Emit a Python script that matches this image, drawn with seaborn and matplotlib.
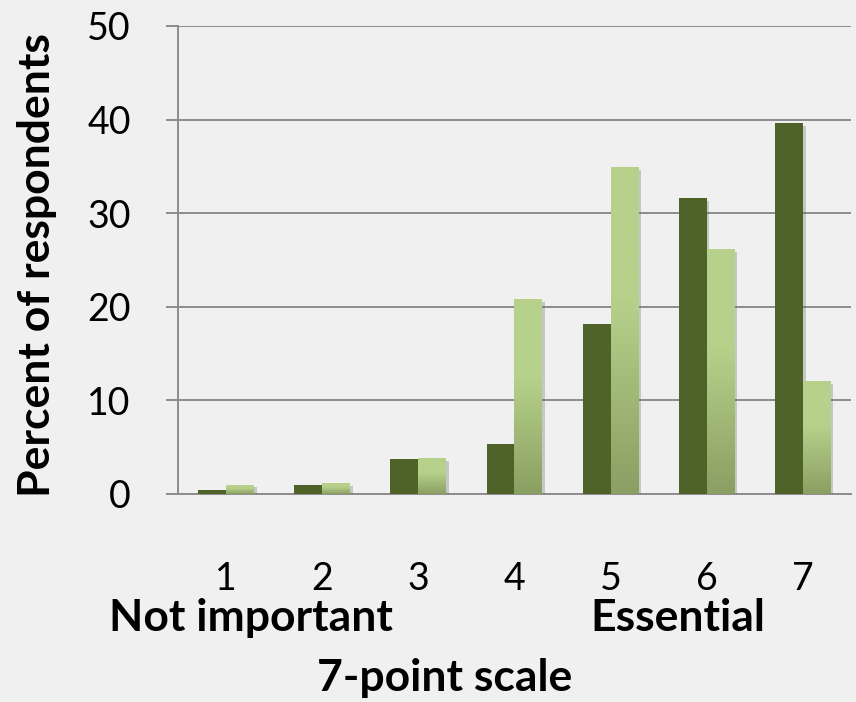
import numpy as np
import pandas as pd
import matplotlib
matplotlib.use("Agg")
import matplotlib.pyplot as plt
import matplotlib.patheffects as pe
from matplotlib.colors import LinearSegmentedColormap
import seaborn as sns

# data
scale_points = ["1", "2", "3", "4", "5", "6", "7"]
series_names = ["Series 1", "Series 2"]
dark_values = [0.4, 1.0, 3.7, 5.3, 18.2, 31.6, 39.6]
light_values = [1.0, 1.2, 3.8, 20.8, 34.9, 26.2, 12.1]
y_ticks = [0, 10, 20, 30, 40, 50]

df = pd.DataFrame({
    "scale": scale_points * 2,
    "series": [series_names[0]] * len(scale_points) + [series_names[1]] * len(scale_points),
    "percent": dark_values + light_values,
})

sns.set_theme(style="white")
plt.rcParams["font.family"] = ["Lato", "DejaVu Sans"]

bg = "#f0f0f0"
grid_col = "#8c8c8c"
fig = plt.figure(figsize=(8.56, 7.02), dpi=100, facecolor=bg)
ax = fig.add_axes([0.208, 0.2963, 0.786, 0.6667])
ax.set_facecolor(bg)

sns.barplot(data=df, x="scale", y="percent", hue="series",
            palette=["#4f6228", "#b6d08a"], width=0.58, saturation=1,
            legend=False, ax=ax, zorder=3, linewidth=0)

# soft drop shadow on every bar
shadow = [pe.SimplePatchShadow(offset=(2, -2), shadow_rgbFace="#666666", alpha=0.3), pe.Normal()]
for bar in ax.patches:
    bar.set_path_effects(shadow)

# vertical gradient on the light series
grad = np.linspace(0, 1, 256).reshape(-1, 1)
cmap = LinearSegmentedColormap.from_list("lg", [(0, "#8a9f62"), (0.6, "#b7d18b"), (1, "#b7d18b")])
for bar in ax.containers[1]:
    x0, y0 = bar.get_x(), bar.get_y()
    w, h = bar.get_width(), bar.get_height()
    bar.set_facecolor("none")
    im = ax.imshow(grad, extent=[x0, x0 + w, y0, y0 + h], origin="lower",
                   cmap=cmap, aspect="auto", zorder=4, interpolation="bilinear")
    im.set_clip_path(bar)

ax.set_xlim(-0.5, len(scale_points) - 0.5)
ax.set_ylim(0, 50)
ax.set_yticks(y_ticks)
ax.set_axisbelow(True)
ax.yaxis.grid(True, color=grid_col, lw=1.4)
ax.xaxis.grid(False)

for side in ["top", "right"]:
    ax.spines[side].set_visible(False)
for side in ["left", "bottom"]:
    ax.spines[side].set_color(grid_col)
    ax.spines[side].set_linewidth(1.4)

ax.set_xticks(range(len(scale_points)))
ax.set_xticklabels(scale_points)
ax.set_xticks(np.arange(-0.5, len(scale_points)), minor=True)
ax.tick_params(axis="x", which="major", length=0, pad=48, labelsize=27, labelcolor="black")
ax.tick_params(axis="x", which="minor", length=11, width=1.4, color=grid_col, direction="out")
ax.tick_params(axis="y", length=9, width=1.4, color=grid_col, pad=25, labelsize=27,
               labelcolor="black", direction="out", left=True)

ax.set_xlabel("")
ax.set_ylabel("Percent of respondents", fontsize=32, fontweight="bold", color="black")
ax.yaxis.label.set_va("center")
ax.yaxis.set_label_coords(-0.21, 0.49)

fig.text(251 / 856, 1 - 618 / 702, "Not important", ha="center", va="center",
         fontsize=32, fontweight="bold", color="black")
fig.text(678 / 856, 1 - 618 / 702, "Essential", ha="center", va="center",
         fontsize=32, fontweight="bold", color="black")
fig.text(445 / 856, 1 - 678 / 702, "7-point scale", ha="center", va="center",
         fontsize=32, fontweight="bold", color="black")

fig.savefig("out.png", dpi=100, facecolor=bg)
